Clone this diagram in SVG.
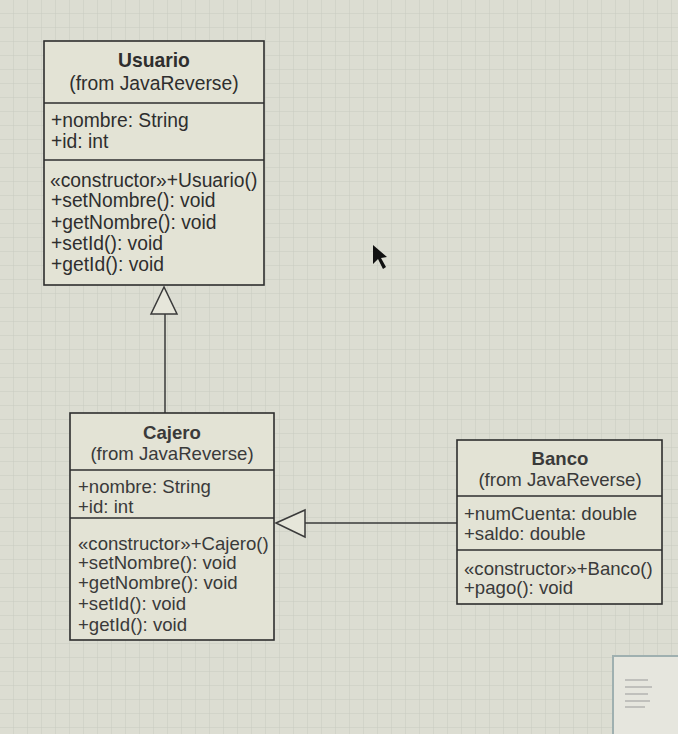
<svg xmlns="http://www.w3.org/2000/svg" width="678" height="734" viewBox="0 0 678 734">
<style>
.box{fill:#e3e3d5;stroke:#2e2e2e;stroke-width:1.6}
.div{stroke:#2e2e2e;stroke-width:1.4}
.t{font-family:"Liberation Sans",Arial,sans-serif;font-size:18.6px;fill:#3a3a3a}
.u{font-size:19.3px;fill:#2e2e2e}
.n{font-weight:bold;text-anchor:middle}
.c{text-anchor:middle}
.ln{stroke:#3a3a3a;stroke-width:1.5;fill:none}
.tri{fill:#e6e6da;stroke:#3a3a3a;stroke-width:1.5}
</style>
<defs>
<pattern id="grid" width="14" height="14" patternUnits="userSpaceOnUse">
<rect width="14" height="14" fill="#dcddd2"/>
<path d="M14 0V14M0 14H14" stroke="#c9cbc1" stroke-width="1"/>
</pattern>
</defs>
<rect width="678" height="734" fill="url(#grid)"/>
<g id="connectors">
<line class="ln" x1="165" y1="413" x2="165" y2="314"/>
<polygon class="tri" points="164,287 151,314 177,314"/>
<line class="ln" x1="457" y1="523" x2="305" y2="523"/>
<polygon class="tri" points="276,523 305,510 305,537"/>
</g>
<g id="Usuario">
<rect class="box" x="44" y="41" width="220" height="244"/>
<line class="div" x1="44" y1="103" x2="264" y2="103"/>
<line class="div" x1="44" y1="160" x2="264" y2="160"/>
<text class="t u n" x="154" y="67">Usuario</text>
<text class="t u c" x="154" y="90">(from JavaReverse)</text>
<text class="t u" x="51" y="127">+nombre: String</text>
<text class="t u" x="51" y="148">+id: int</text>
<text class="t u" x="50" y="187">«constructor»+Usuario()</text>
<text class="t u" x="51" y="207">+setNombre(): void</text>
<text class="t u" x="51" y="229">+getNombre(): void</text>
<text class="t u" x="51" y="250">+setId(): void</text>
<text class="t u" x="51" y="271">+getId(): void</text>
</g>
<g id="Cajero">
<rect class="box" x="70" y="413" width="204" height="227"/>
<line class="div" x1="70" y1="470" x2="274" y2="470"/>
<line class="div" x1="70" y1="518" x2="274" y2="518"/>
<text class="t n" x="172" y="439">Cajero</text>
<text class="t c" x="172" y="460">(from JavaReverse)</text>
<text class="t" x="78" y="493">+nombre: String</text>
<text class="t" x="78" y="513">+id: int</text>
<text class="t" x="78" y="550">«constructor»+Cajero()</text>
<text class="t" x="78" y="569">+setNombre(): void</text>
<text class="t" x="78" y="589">+getNombre(): void</text>
<text class="t" x="78" y="610">+setId(): void</text>
<text class="t" x="78" y="631">+getId(): void</text>
</g>
<g id="Banco">
<rect class="box" x="457" y="440" width="205" height="164"/>
<line class="div" x1="457" y1="496" x2="662" y2="496"/>
<line class="div" x1="457" y1="550" x2="662" y2="550"/>
<text class="t n" x="560" y="465">Banco</text>
<text class="t c" x="560" y="486">(from JavaReverse)</text>
<text class="t" x="464" y="520">+numCuenta: double</text>
<text class="t" x="464" y="540">+saldo: double</text>
<text class="t" x="464" y="575">«constructor»+Banco()</text>
<text class="t" x="464" y="594">+pago(): void</text>
</g>
<g id="cursor">
<polygon points="373,245 373,264 378,259 383,269 386,267 381,258 387,257" fill="#111"/>
</g>
<g id="navigator">
<rect x="613" y="656" width="70" height="80" fill="#e6e6de" stroke="#9fb0b0" stroke-width="2"/>
<g stroke="#9a9a9a" stroke-width="1">
<line x1="625" y1="680" x2="648" y2="680"/>
<line x1="625" y1="687" x2="652" y2="687"/>
<line x1="625" y1="694" x2="648" y2="694"/>
<line x1="625" y1="701" x2="650" y2="701"/>
<line x1="625" y1="707" x2="645" y2="707"/>
</g>
</g>
</svg>
